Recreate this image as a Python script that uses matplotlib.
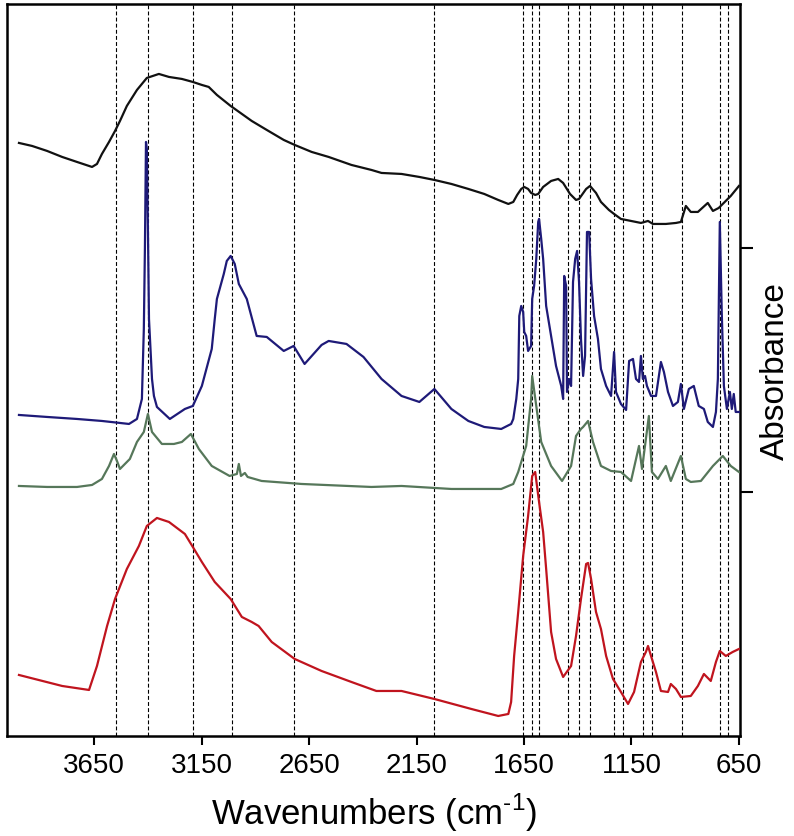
import numpy as np
import matplotlib.pyplot as plt

# FTIR spectra (offset absorbance, arbitrary units)
wn_black = [4000, 3939, 3869, 3799, 3730, 3660, 3637, 3614, 3581, 3553, 3530, 3498, 3451, 3405,
            3349, 3302, 3242, 3191, 3149, 3117, 3079, 3015, 2917, 2847, 2768, 2717, 2638, 2559,
            2453, 2360, 2313, 2220, 2137, 2067, 1988, 1909, 1835, 1770, 1723, 1700, 1682, 1663,
            1649, 1631, 1617, 1598, 1584, 1561, 1524, 1491, 1468, 1436, 1408, 1394, 1361, 1343,
            1315, 1292, 1255, 1231, 1199, 1152, 1106, 1073, 1050, 990, 943, 920, 897, 874, 841,
            795, 771, 744, 688, 650]
ab_black = [593, 590, 585, 579, 574, 569, 572, 582, 594, 605, 615, 630, 646, 658,
            662, 659, 657, 654, 651, 649, 641, 630, 615, 606, 596, 591, 584, 579,
            571, 566, 563, 562, 559, 556, 552, 547, 542, 536, 532, 534, 541, 547,
            549, 547, 543, 541, 542, 549, 555, 557, 553, 542, 536, 537, 547, 550,
            543, 534, 526, 522, 517, 515, 513, 515, 512, 512, 513, 514, 530, 524, 524,
            533, 525, 528, 540, 550]

wn_blue = [4000, 3869, 3730, 3614, 3488, 3451, 3428, 3419, 3414, 3409, 3405, 3400, 3395, 3381,
           3372, 3358, 3298, 3228, 3191, 3149, 3103, 3089, 3079, 3066, 3047, 3033, 3015, 2996,
           2977, 2940, 2894, 2847, 2768, 2722, 2671, 2592, 2559, 2476, 2397, 2313, 2220, 2137,
           2067, 1988, 1909, 1835, 1756, 1710, 1700, 1686, 1677, 1672, 1663, 1654, 1649, 1640,
           1631, 1617, 1612, 1603, 1593, 1584, 1580, 1570, 1561, 1547, 1524, 1501, 1477, 1468,
           1463, 1454, 1450, 1440, 1431, 1422, 1412, 1403, 1394, 1385, 1375, 1366, 1357, 1347,
           1338, 1324, 1306, 1292, 1268, 1245, 1231, 1222, 1199, 1175, 1161, 1143, 1129, 1115,
           1106, 1097, 1087, 1078, 1059, 1036, 1013, 999, 980, 957, 934, 920, 906, 883, 860,
           837, 813, 795, 771, 757, 748, 739, 730, 720, 706, 692, 683, 674, 665, 650]
ab_blue = [321, 319, 317, 315, 312, 317, 337, 407, 487, 594, 587, 507, 417, 357,
           340, 329, 317, 327, 330, 350, 387, 417, 437, 447, 462, 475, 480, 472,
           452, 437, 400, 399, 385, 390, 372, 391, 395, 392, 379, 357, 340, 334,
           347, 327, 315, 309, 307, 312, 317, 337, 357, 420, 430, 424, 404, 400,
           385, 390, 437, 450, 477, 514, 517, 497, 477, 430, 400, 370, 350, 337,
           460, 450, 344, 357, 350, 454, 477, 485, 454, 397, 360, 380, 504, 504,
           457, 420, 397, 367, 350, 340, 384, 344, 332, 326, 375, 377, 357, 354,
           380, 357, 360, 350, 340, 340, 374, 364, 344, 330, 334, 352, 327, 347, 350,
           330, 327, 314, 309, 324, 357, 514, 424, 350, 327, 344, 327, 342, 324, 324]

wn_green = [4000, 3869, 3730, 3660, 3614, 3581, 3558, 3544, 3530, 3484, 3451, 3419, 3400, 3381,
            3335, 3279, 3242, 3200, 3163, 3103, 3020, 2986, 2977, 2967, 2949, 2936, 2871, 2685,
            2360, 2220, 1988, 1756, 1700, 1677, 1640, 1617, 1612, 1593, 1570, 1524, 1473, 1431,
            1408, 1385, 1375, 1352, 1329, 1292, 1245, 1199, 1152, 1115, 1101, 1069, 1055, 1027,
            990, 967, 920, 897, 874, 827, 771, 725, 688, 650]
ab_green = [250, 249, 249, 251, 257, 270, 282, 275, 267, 277, 294, 304, 322, 304,
            292, 292, 294, 302, 287, 270, 260, 262, 272, 260, 263, 259, 255, 252,
            249, 250, 247, 247, 252, 264, 290, 337, 360, 330, 294, 270, 255, 270,
            300, 307, 309, 315, 294, 270, 265, 264, 255, 290, 267, 320, 264, 257,
            270, 255, 280, 257, 254, 255, 270, 280, 270, 264]

wn_red = [4000, 3799, 3674, 3637, 3590, 3553, 3498, 3442, 3405, 3358, 3302, 3228, 3191, 3149,
          3089, 3015, 2963, 2917, 2885, 2824, 2717, 2592, 2453, 2337, 2220, 2067, 1895, 1770,
          1723, 1710, 1696, 1677, 1654, 1631, 1612, 1598, 1580, 1561, 1547, 1524, 1501, 1468,
          1431, 1408, 1385, 1361, 1352, 1338, 1315, 1292, 1268, 1236, 1199, 1166, 1138, 1106,
          1083, 1073, 1059, 1036, 1013, 980, 967, 943, 920, 874, 841, 813, 781, 757, 739, 711,
          679, 650]
ab_red = [61, 50, 46, 70, 110, 137, 167, 190, 210, 218, 214, 202, 189, 174,
          154, 137, 119, 114, 110, 94, 77, 65, 54, 45, 45, 37, 27, 20,
          22, 34, 80, 124, 180, 220, 260, 264, 234, 204, 167, 104, 77, 59,
          70, 100, 137, 172, 173, 157, 124, 107, 80, 57, 44, 32, 44, 74,
          84, 90, 80, 64, 45, 44, 52, 47, 39, 40, 50, 62, 55, 74, 85, 80,
          84, 87]

# band positions marked with dashed lines
bands = [3550, 3400, 3190, 3010, 2720, 2070, 1655, 1615, 1580, 1445, 1395, 1345,
         1230, 1190, 1095, 1055, 915, 740, 700]

xticks = [3650, 3150, 2650, 2150, 1650, 1150, 650]

plt.rcParams['font.family'] = ['Liberation Sans', 'DejaVu Sans']
plt.rcParams['mathtext.fontset'] = 'custom'
plt.rcParams['mathtext.rm'] = 'Liberation Sans'

fig = plt.figure(figsize=(7.94, 8.37), dpi=100)
ax = fig.add_axes([0.009, 0.1195, 0.923, 0.8746])

for b in bands:
    ax.axvline(b, color='black', lw=0.8, ls=(0, (3.5, 2)), zorder=1)

ax.plot(wn_black, ab_black, color='#111111', lw=1.6, zorder=3)
ax.plot(wn_blue, ab_blue, color='#1e1a78', lw=1.6, zorder=3)
ax.plot(wn_green, ab_green, color='#56775a', lw=1.6, zorder=3)
ax.plot(wn_red, ab_red, color='#c0141e', lw=1.6, zorder=3)

ax.set_xlim(4055, 645)
ax.set_ylim(0, 732)

ax.set_xticks(xticks)
ax.set_xticklabels([str(t) for t in xticks], fontsize=20)
ax.yaxis.tick_right()
ax.set_yticks([244, 488])
ax.set_yticklabels([])
ax.tick_params(axis='x', direction='out', length=6.5, width=1.5, pad=5)
ax.tick_params(axis='y', direction='out', length=9, width=1.5)

for s in ax.spines.values():
    s.set_linewidth(1.8)

ax.set_xlabel('Wavenumbers (cm$^{\\text{-1}}$)', fontsize=25, labelpad=9)
ax.yaxis.set_label_position('right')
ax.set_ylabel('Absorbance', fontsize=24, labelpad=2)

fig.savefig('out.png', dpi=100)
